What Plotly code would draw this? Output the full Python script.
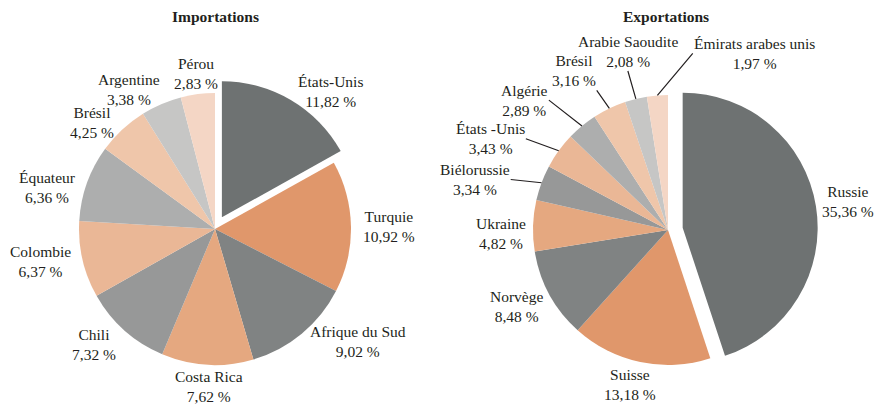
import math
import plotly.graph_objects as go

imp_labels = ["États-Unis", "Turquie", "Afrique du Sud", "Costa Rica", "Chili",
              "Colombie", "Équateur", "Brésil", "Argentine", "Pérou"]
imp_values = [11.82, 10.92, 9.02, 7.62, 7.32, 6.37, 6.36, 4.25, 3.38, 2.83]

exp_labels = ["Russie", "Suisse", "Norvège", "Ukraine", "Biélorussie", "États -Unis",
              "Algérie", "Brésil", "Arabie Saoudite", "Émirats arabes unis"]
exp_values = [35.36, 13.18, 8.48, 4.82, 3.34, 3.43, 2.89, 3.16, 2.08, 1.97]

colors = ["#6e7272", "#e0976b", "#808383", "#e5a880", "#979898",
          "#eab796", "#adaeae", "#efc6aa", "#c6c6c5", "#f4d6c5"]

# ---- layout / style parameters ----
W, H = 875, 405
FONT = "Liberation Serif"
TXT = "#231f20"
FS = 15.5
GAP = 10
# pie geometry (pixels): center x, center y, radius, pull of first slice
IMP_GEOM = dict(cx=215, cy=229, r=136, pull=0.1)
EXP_GEOM = dict(cx=668, cy=230, r=135, pull=0.11)
# small text nudges (pixels, right / down) for label placement
IMP_NUDGE = {3: (2, -9), 4: (0, 6), 6: (0, 8), 8: (5, -5), 9: (0, 10)}
EXP_NUDGE = {0: (-6, -3), 1: (-8, -8), 2: (4, 7), 3: (5, 8)}
# leader lines for the export pie: index -> (length px, direction deg, yanchor)
EXP_LEADERS = {4: (31, 276, "middle"), 5: (35, 290, "middle"), 6: (42, 308, "middle"),
               7: (22, 325, "bottom"), 8: (29, 344, "bottom"), 9: (55, 40, "middle")}


def fr(v):
    return f"{v:.2f}".replace(".", ",") + " %"


def anchors(dx, dy):
    xa = "left" if dx > 0.3 else ("right" if dx < -0.3 else "center")
    ya = "bottom" if dy < -0.95 else ("top" if dy > 0.95 else "middle")
    return xa, ya


def make_pie(labels, values, g):
    half = g["r"] * (1 + g["pull"])
    return go.Pie(
        labels=labels, values=values, textinfo="none",
        marker=dict(colors=colors, line=dict(width=0)),
        sort=False, direction="clockwise", rotation=0,
        pull=[g["pull"]] + [0] * (len(values) - 1),
        domain=dict(x=[(g["cx"] - half) / W, (g["cx"] + half) / W],
                    y=[1 - (g["cy"] + half) / H, 1 - (g["cy"] - half) / H]),
        showlegend=False, hoverinfo="skip",
    )


def make_labels(labels, values, g, leaders=None, nudge=None):
    leaders = leaders or {}
    nudge = nudge or {}
    total = sum(values)
    cum = 0.0
    anns = []
    for i, (lab, v) in enumerate(zip(labels, values)):
        mid = math.radians((cum + v / 2) / total * 360)
        cum += v
        dx, dy = math.sin(mid), -math.cos(mid)
        ox, oy = g["cx"], g["cy"]
        if i == 0:
            ox += dx * g["pull"] * g["r"]
            oy += dy * g["pull"] * g["r"]
        text = f"{lab}<br>{fr(v)}"
        base = dict(xref="paper", yref="paper", text=text, align="center",
                    font=dict(family=FONT, size=FS, color=TXT))
        if i in leaders:
            L, ang, ya = leaders[i]
            ta = math.radians(ang)
            tdx, tdy = math.sin(ta), -math.cos(ta)
            hx, hy = ox + dx * g["r"], oy + dy * g["r"]
            xa, _ = anchors(tdx, tdy)
            anns.append(dict(base, x=hx / W, y=1 - hy / H, showarrow=True,
                             arrowhead=0, arrowwidth=1.2, arrowcolor=TXT,
                             ax=tdx * L, ay=tdy * L, standoff=0, startstandoff=0,
                             xanchor=xa, yanchor=ya, borderpad=0))
        else:
            nx, ny = nudge.get(i, (0, 0))
            px = ox + dx * (g["r"] + GAP) + nx
            py = oy + dy * (g["r"] + GAP) + ny
            xa, ya = anchors(dx, dy)
            anns.append(dict(base, x=px / W, y=1 - py / H, showarrow=False,
                             xanchor=xa, yanchor=ya))
    return anns


fig = go.Figure()
fig.add_trace(make_pie(imp_labels, imp_values, IMP_GEOM))
fig.add_trace(make_pie(exp_labels, exp_values, EXP_GEOM))

annotations = make_labels(imp_labels, imp_values, IMP_GEOM, nudge=IMP_NUDGE)
annotations += make_labels(exp_labels, exp_values, EXP_GEOM, EXP_LEADERS, EXP_NUDGE)
annotations += [
    dict(text="<b>Importations</b>", x=215 / W, y=1 - 16 / H, xref="paper", yref="paper",
         xanchor="center", yanchor="middle", showarrow=False,
         font=dict(family=FONT, size=FS, color=TXT)),
    dict(text="<b>Exportations</b>", x=666 / W, y=1 - 16 / H, xref="paper", yref="paper",
         xanchor="center", yanchor="middle", showarrow=False,
         font=dict(family=FONT, size=FS, color=TXT)),
]

fig.update_layout(
    width=W, height=H, margin=dict(l=0, r=0, t=0, b=0),
    paper_bgcolor="white", plot_bgcolor="white",
    font=dict(family=FONT, size=FS, color=TXT),
    annotations=annotations,
)

fig.write_html("out.html", config={"displayModeBar": False},
               post_script="document.body.style.margin='0';document.body.style.padding='0';")
